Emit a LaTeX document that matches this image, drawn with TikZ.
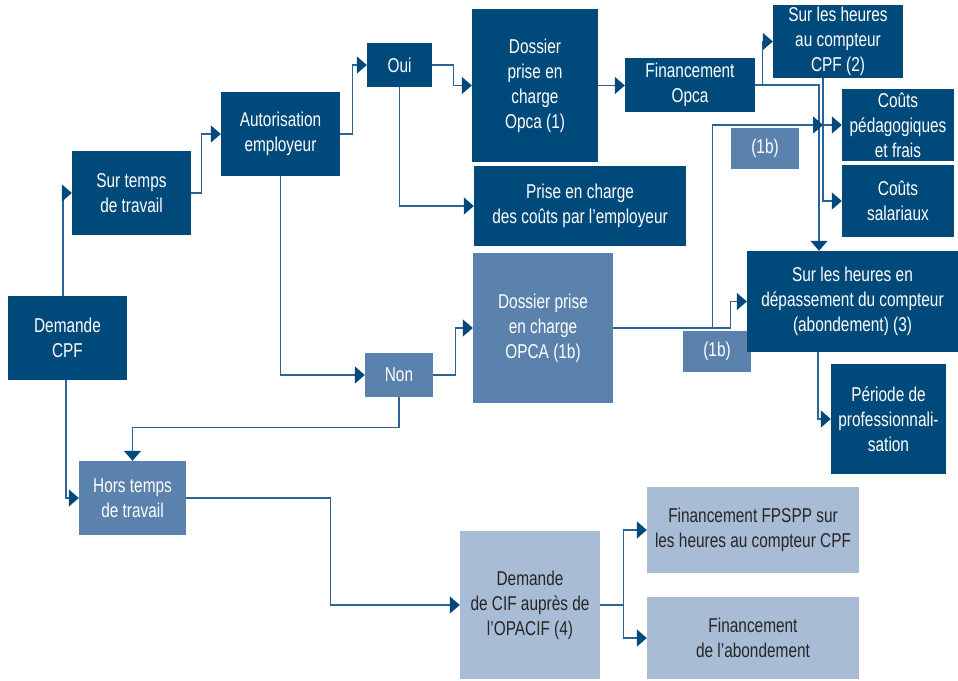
\documentclass[tikz,border=0pt]{standalone}
\usepackage{fontspec}
\setmainfont{Liberation Sans}[FakeStretch=0.77]
\usetikzlibrary{arrows.meta}
\definecolor{cpfdark}{HTML}{004A7B}
\definecolor{cpfmid}{HTML}{5B82AD}
\definecolor{cpflight}{HTML}{A9BCD6}
\definecolor{cpfline}{HTML}{2A6394}
\newcommand{\bloc}[7]{\node[#1, minimum width={(#5-#3)*1pt}, minimum height={(#6-#4)*1pt}] (#2) at ({(#3+#5)/2},{(#4+#6)/2}) {#7};}

\begin{document}
\begin{tikzpicture}[x=1pt, y=-1pt,
    fonce/.style={fill=cpfdark, text=white, align=center, inner sep=0pt, font=\fontsize{20}{25}\selectfont},
    moyen/.style={fonce, fill=cpfmid},
    clair/.style={fonce, fill=cpflight, text=black!85},
    fleche/.style={draw=cpfline, line width=1.4pt, -{Triangle[length=10pt,width=17pt,color=cpfdark]}}]
        \useasboundingbox (0,0) rectangle (958,680);
        % labels (1b)
        \bloc{moyen}{unb}{731}{128}{799}{169}{(1b)}
        \bloc{moyen}{unbbas}{683}{331}{751}{372}{(1b)}
        % left column
        \bloc{fonce}{demande}{8}{296}{127}{380}{Demande\\CPF}
        \bloc{fonce}{surtemps}{72}{151}{191}{235}{Sur temps\\de travail}
        \bloc{moyen}{hors}{79}{461}{186}{535}{Hors temps\\de travail}
        % employeur
        \bloc{fonce}{autorisation}{221}{92}{340}{176}{Autorisation\\employeur}
        \bloc{fonce}{oui}{367}{43}{432}{87}{Oui}
        \bloc{moyen}{non}{365}{353}{433}{397}{Non}
        % prise en charge
        \bloc{fonce}{dossier}{472}{9}{598}{162}{Dossier\\prise en\\charge\\Opca (1)}
        \bloc{fonce}{priseemp}{474}{166}{686}{246}{Prise en charge\\des coûts par l’employeur}
        \bloc{moyen}{dossierb}{473}{253}{613}{403}{Dossier prise\\en charge\\OPCA (1b)}
        \bloc{fonce}{financement}{625}{58}{755}{112}{Financement\\Opca}
        % right column
        \bloc{fonce}{compteur}{773}{5}{903}{78}{Sur les heures\\au compteur\\CPF (2)}
        \bloc{fonce}{pedago}{842}{89}{954}{161}{Coûts\\pédagogiques\\et frais}
        \bloc{fonce}{salariaux}{842}{165}{954}{237}{Coûts\\salariaux}
        \bloc{fonce}{depassement}{747}{251}{958}{352}{Sur les heures en\\dépassement du compteur\\(abondement) (3)}
        \bloc{fonce}{periode}{831}{364}{946}{474}{Période de\\professionnali-\\sation}
        % CIF
        \bloc{clair}{cif}{460}{531}{600}{679}{Demande\\de CIF auprès de\\l’OPACIF (4)}
        \bloc{clair}{fpspp}{647}{487}{859}{573}{Financement FPSPP sur\\les heures au compteur CPF}
        \bloc{clair}{abond}{647}{597}{859}{679}{Financement\\de l’abondement}
        % connectors
        \coordinate (noeud) at ([xshift=-15pt]compteur.south |- pedago.west);
        \draw[fleche] ([xshift=-4.5pt]demande.north) |- (surtemps.west);
        \draw[fleche] ([xshift=-1.5pt]demande.south) |- (hors.west);
        \draw[fleche] (surtemps.east) -- ++(10,0) |- (autorisation.west);
        \draw[fleche] (autorisation.east) -- ++(12,0) |- (oui.west);
        \draw[fleche] (autorisation.south) |- (non.west);
        \draw[fleche] (oui.east) -- ++(21,0) |- (dossier.west);
        \draw[fleche] (oui.south) |- (priseemp.west);
        \draw[fleche] (dossier.east) -- (dossier.east -| financement.west);
        \draw[fleche] (financement.east) -- ++(7,0) |- (compteur.west);
        \draw[fleche] (financement.east) -| ([xshift=-33.5pt]depassement.north);
        \draw[fleche] ([xshift=-15pt]compteur.south) |- (pedago.west);
        \draw[fleche] ([xshift=-15pt]compteur.south) |- (salariaux.west);
        \draw[fleche] (non.east) -- ++(22,0) |- (dossierb.west);
        \draw[fleche] (non.south) -- ++(0,30) -| (hors.north);
        \draw[fleche] (dossierb.east) -- ++(117,0) |- (depassement.west);
        \draw[fleche] (dossierb.east) -- ++(99,0) |- (noeud);
        \draw[fleche] ([xshift=-34.5pt]depassement.south) |- (periode.west);
        \draw[fleche] (hors.east) -- ++(144,0) |- (cif.west);
        \draw[fleche] (cif.east) -- ++(23,0) |- (fpspp.west);
        \draw[fleche] (cif.east) -- ++(23,0) |- (abond.west);
    \end{tikzpicture}
\end{document}
